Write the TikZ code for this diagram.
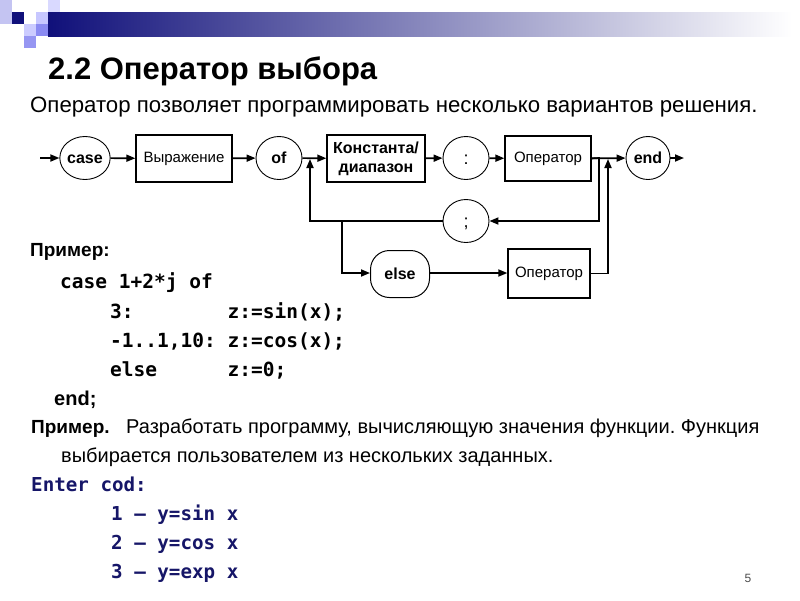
\documentclass[tikz,border=0pt]{standalone}
\usepackage{fontspec}
\setmainfont{Liberation Sans}
\newfontfamily\codefont{DejaVu Sans Mono}
\usetikzlibrary{arrows.meta,shapes.geometric}
\definecolor{navy}{RGB}{16,16,122}
\definecolor{codeblue}{RGB}{22,22,104}
\frenchspacing
\tikzset{
  term/.style={ellipse,draw,line width=0.9pt,minimum width=46pt,minimum height=43pt,inner sep=0pt,text height=10pt,text depth=0pt,font=\fontsize{16}{18}\selectfont\bfseries},
  box/.style={rectangle,draw,line width=1.3pt,inner sep=0pt,text height=11pt,text depth=3pt,font=\fontsize{15}{18}\selectfont},
  stadium/.style={rectangle,draw,rounded corners=19pt,line width=1pt,minimum width=59pt,minimum height=47pt,inner sep=0pt,text height=11pt,text depth=0pt,font=\fontsize{16}{18}\selectfont\bfseries},
  conn/.style={line width=1.7pt,-{Triangle[length=9pt,width=7pt]}},
  txt/.style={anchor=base west,inner sep=0pt,font=\fontsize{20}{24}\selectfont\frenchspacing},
  code/.style={anchor=base west,inner sep=0pt,font=\fontsize{19.5}{24}\selectfont\codefont\bfseries\frenchspacing},
  enter/.style={anchor=base west,inner sep=0pt,text=codeblue,font=\fontsize{19.2}{24}\selectfont\codefont\bfseries\frenchspacing},
}
\begin{document}
\begin{tikzpicture}[x=1pt,y=-1pt]
\useasboundingbox (0,0) rectangle (800,600);
% decoration
\fill[white] (0,0) rectangle (800,600);
\shade[left color=navy,right color=white] (48,12) rectangle (792,36);
\fill[blue!20!white!90!gray] (0,0) rectangle (12,24);
\fill[navy] (12,12) rectangle (24,24);
\fill[blue!15!white] (48,0) rectangle (60,12);
\fill[blue!22!white] (36,12) rectangle (48,24);
\fill[blue!20!white] (24,24) rectangle (36,36);
\fill[blue!45!white!90!gray] (36,24) rectangle (48,36);
\fill[blue!40!white!90!gray] (24,36) rectangle (36,48);
% title
\node[anchor=base west,inner sep=0pt,font=\fontsize{31}{36}\selectfont\bfseries] (title) at (48,79) {2.2 Оператор выбора};
\node[txt,font=\fontsize{22.2}{26}\selectfont] (sub) at (30,112) {Оператор позволяет программировать несколько вариантов решения.};
% diagram
\coordinate (in) at (40,158);
\node[term] (case) at (85,158) {case};
\node[box,minimum width=96pt,minimum height=47pt] (expr) at (184,158.5) {Выражение};
\node[term,text height=11pt] (of) at (279,158) {of};
\coordinate (j1) at (310,158);
\node[box,minimum width=98pt,minimum height=47pt,align=center,text height=,text depth=,font=\fontsize{16}{19}\selectfont\bfseries] (const) at (376,158.5) {Константа/\\диапазон};
\node[term,font=\fontsize{18}{18}\selectfont,text height=12pt] (colon) at (466,158) {:};
\node[box,minimum width=86pt,minimum height=45pt] (op1) at (548,158.5) {Оператор};
\coordinate (j2) at (599,158);
\coordinate (j3) at (608,158);
\node[term,minimum width=44pt,text height=11pt] (end) at (648,158) {end};
\coordinate (out) at (684,158);
\node[term,font=\fontsize{18}{18}\selectfont,text height=12pt] (semi) at (466,221) {;};
\coordinate (l1) at (599,221);
\coordinate (l2) at (310,221);
\coordinate (e1) at (342,221);
\coordinate (e2) at (342,273);
\node[stadium] (else) at (400,274) {else};
\node[box,minimum width=82pt,minimum height=49pt] (op2) at (549,273.5) {Оператор};
\coordinate (r1) at (608,273.5);
\draw[conn] (in) -- (case);
\draw[conn] (case) -- (expr);
\draw[conn] (expr) -- (of);
\draw[conn] (of) -- (const);
\draw[conn] (const) -- (colon);
\draw[conn] (colon) -- (op1);
\draw[conn] (op1) -- (end);
\draw[conn] (end) -- (out);
\draw[conn] (op1.east) -- (j2) -- (l1) -- (semi.east);
\draw[conn,shorten >=1pt] (semi.west) -- (l2) -- (j1);
\draw[conn] (e1) -- (e2) -- (else.west |- e2);
\draw[conn] (else.east |- e2) -- (op2.west |- e2);
\draw[conn,shorten >=1pt] (op2.east |- r1) -- (r1) -- (j3);
% text
\node[txt,font=\fontsize{19}{24}\selectfont\bfseries] (ex1) at (30,256) {Пример:};
\node[code] (c1) at (60,288) {case 1+2*j of};
\node[code] (c2) at (110,318) {3:\ \ \ \ \ \ \ \ z:=sin(x);};
\node[code] (c3) at (110,347) {-1..1,10: z:=cos(x);};
\node[code] (c4) at (110,376) {else\ \ \ \ \ \ z:=0;};
\node[txt,font=\fontsize{20}{24}\selectfont\bfseries] (c5) at (54,405) {end;};
\node[txt,font=\fontsize{19}{24}\selectfont\bfseries] (ex2) at (31,433) {Пример.};
\node[txt] (ex2b) at (126,433) {Разработать программу, вычисляющую значения функции. Функция};
\node[txt] (ex2c) at (61,462) {выбирается пользователем из нескольких заданных.};
\node[enter] (en) at (31,491) {Enter cod:};
\node[enter] (m1) at (111,520) {1 – y=sin x};
\node[enter] (m2) at (111,549) {2 – y=cos x};
\node[enter] (m3) at (111,578) {3 – y=exp x};
\node[anchor=base,inner sep=0pt,text=black!70,font=\fontsize{12}{14}\selectfont] (pg) at (748,582) {5};
\end{tikzpicture}
\end{document}
